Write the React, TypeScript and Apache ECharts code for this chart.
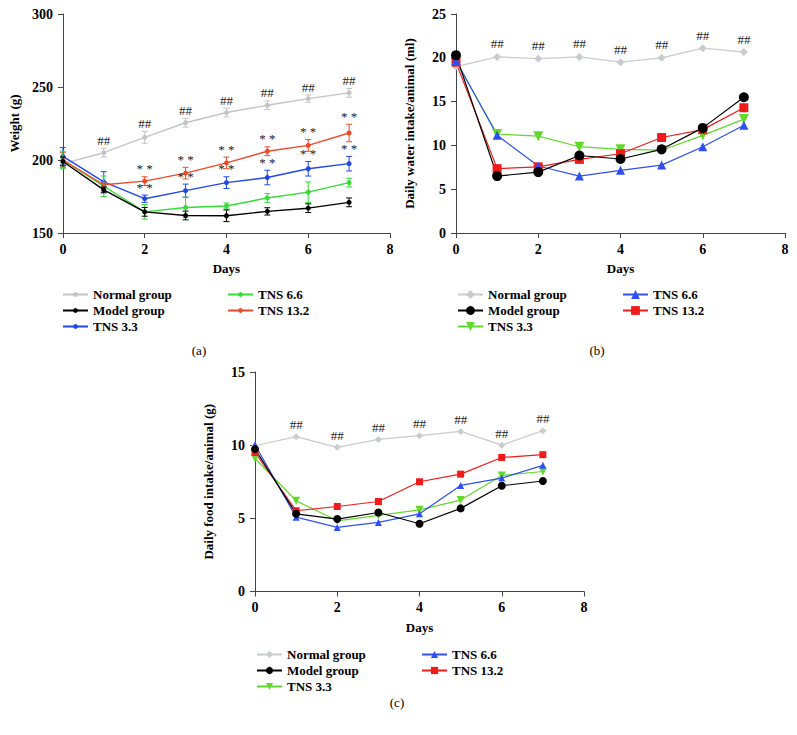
import React, { useEffect, useRef } from 'react';
import * as echarts from 'echarts';

const FONT = '"Liberation Serif", "DejaVu Serif", serif';

const days = [0, 1, 2, 3, 4, 5, 6, 7];
const groupNames = ['Normal group', 'Model group', 'TNS 3.3', 'TNS 6.6', 'TNS 13.2'];
const xTicks = { min: 0, max: 8, interval: 2 };

// Panel (a): body weight (g), mean and error
const weightNormal = [197.5, 205, 215.5, 225.5, 232.5, 237.5, 242, 246];
const weightNormalErr = [3, 3, 4, 3, 3, 3, 2.5, 3];
const weightModel = [199, 179.5, 164.5, 162, 161.8, 164.8, 167, 171];
const weightModelErr = [3, 2, 3, 3, 4, 2.5, 3, 3];
const weightTns33 = [202.5, 185, 173.5, 179, 184.5, 188, 194, 197.5];
const weightTns33Err = [6, 7, 2.5, 4.5, 4, 5, 5, 5];
const weightTns66 = [200, 182, 164.5, 167.5, 168.5, 174, 178, 184.5];
const weightTns66Err = [6, 7, 5, 7, 2, 3, 7, 3];
const weightTns132 = [200, 183, 185.5, 191, 198, 206, 210, 218.5];
const weightTns132Err = [5, 2, 3, 4, 4, 3, 4, 6];
const weightNormalMarks = ['', '##', '##', '##', '##', '##', '##', '##'];
const weightTns33Marks = ['', '', '* *', '* *', '* *', '* *', '* *', '* *'];
const weightTns132Marks = ['', '', '* *', '* *', '* *', '* *', '* *', '* *'];

// Panel (b): daily water intake (ml)
const waterNormal = [19.0, 20.1, 19.9, 20.1, 19.5, 20.0, 21.1, 20.65];
const waterModel = [20.3, 6.5, 6.95, 8.85, 8.45, 9.55, 12.0, 15.5];
const waterTns33 = [19.6, 11.3, 11.05, 9.85, 9.55, 9.45, 11.15, 13.0];
const waterTns66 = [19.7, 11.15, 7.65, 6.5, 7.15, 7.75, 9.85, 12.3];
const waterTns132 = [19.5, 7.35, 7.55, 8.4, 9.05, 10.9, 11.8, 14.3];
const waterNormalMarks = ['', '##', '##', '##', '##', '##', '##', '##'];

// Panel (c): daily food intake (g)
const foodNormal = [9.96, 10.58, 9.85, 10.39, 10.65, 10.94, 10.0, 10.99];
const foodModel = [9.73, 5.31, 4.95, 5.4, 4.63, 5.68, 7.23, 7.55];
const foodTns33 = [9.1, 6.2, 4.83, 5.2, 5.58, 6.25, 7.93, 8.2];
const foodTns66 = [10.03, 5.08, 4.38, 4.72, 5.31, 7.25, 7.75, 8.62];
const foodTns132 = [9.5, 5.52, 5.81, 6.15, 7.5, 8.02, 9.16, 9.35];
const foodNormalMarks = ['', '##', '##', '##', '##', '##', '##', '##'];

const boldText = { fontFamily: FONT, fontWeight: 'bold' as const, color: '#000' };

function xAxisOpt() {
  return {
    type: 'value',
    ...xTicks,
    name: 'Days',
    nameLocation: 'middle',
    nameGap: 29,
    nameTextStyle: { ...boldText, fontSize: 13 },
    axisLine: { show: true, onZero: false, lineStyle: { color: '#444', width: 1 } },
    axisTick: { show: true, length: 5, lineStyle: { color: '#444' } },
    axisLabel: { ...boldText, fontSize: 14, margin: 9 },
    splitLine: { show: false },
  };
}

function yAxisOpt(name: string, min: number, max: number, interval: number) {
  return {
    type: 'value',
    min,
    max,
    interval,
    name,
    nameLocation: 'middle',
    nameGap: 40,
    nameTextStyle: { ...boldText, fontSize: 13 },
    axisLine: { show: true, onZero: false, lineStyle: { color: '#444', width: 1 } },
    axisTick: { show: true, length: 5, lineStyle: { color: '#444' } },
    axisLabel: { ...boldText, fontSize: 14, margin: 10 },
    splitLine: { show: false },
  };
}

const grid = { left: 61, top: 14, width: 329, height: 219 };

function legends(itemHeight: number, top: number, itemWidth: number) {
  const base = {
    orient: 'vertical',
    top,
    itemWidth,
    itemHeight,
    itemGap: 3,
    padding: 0,
    selectedMode: false,
    textStyle: { ...boldText, fontSize: 13 },
  };
  return [
    { ...base, left: 62, data: groupNames.slice(0, 3) },
    { ...base, left: 227, data: groupNames.slice(3) },
  ];
}

function caption(text: string, x: number, y: number) {
  return [
    {
      type: 'text',
      x,
      y,
      style: { text, fontFamily: FONT, fontSize: 13, fill: '#000', align: 'center', verticalAlign: 'middle' },
    },
  ];
}

function errorBars(mean: number[], err: number[], color: string) {
  return {
    type: 'custom',
    silent: true,
    z: 3,
    data: days.map((d, i) => [d, mean[i] - err[i], mean[i] + err[i]]),
    encode: { x: 0, y: [1, 2] },
    renderItem: (params: any, api: any) => {
      const x = api.value(0);
      const top = api.coord([x, api.value(2)]);
      const bot = api.coord([x, api.value(1)]);
      const w = 3;
      const style = { stroke: color, lineWidth: 1 };
      return {
        type: 'group',
        children: [
          { type: 'line', shape: { x1: top[0], y1: top[1], x2: bot[0], y2: bot[1] }, style },
          { type: 'line', shape: { x1: top[0] - w, y1: top[1], x2: top[0] + w, y2: top[1] }, style },
          { type: 'line', shape: { x1: bot[0] - w, y1: bot[1], x2: bot[0] + w, y2: bot[1] }, style },
        ],
      };
    },
  };
}

function marks(values: number[], labels: string[], distance: number, fontSize = 13) {
  return {
    type: 'scatter',
    silent: true,
    z: 5,
    symbol: 'circle',
    symbolSize: 1,
    itemStyle: { color: 'rgba(0,0,0,0)' },
    data: days.map((d, i) => [d, values[i]]),
    label: {
      show: true,
      position: 'top',
      distance,
      formatter: (p: any) => labels[p.dataIndex],
      fontFamily: FONT,
      fontSize,
      color: '#222',
      opacity: 1,
    },
  };
}

function lineA(name: string, data: number[], color: string) {
  return {
    type: 'line',
    name,
    z: 4,
    data: days.map((d, i) => [d, data[i]]),
    symbol: 'circle',
    symbolSize: 5,
    showSymbol: true,
    lineStyle: { color, width: 1.4 },
    itemStyle: { color },
  };
}

function lineB(name: string, data: number[], color: string, symbol: string, size: number, rotate = 0) {
  return {
    type: 'line',
    name,
    data: days.map((d, i) => [d, data[i]]),
    symbol,
    symbolSize: size,
    symbolRotate: rotate,
    showSymbol: true,
    lineStyle: { color, width: 1.2 },
    itemStyle: { color },
  };
}

const C = {
  grayA: '#c4c4c4',
  black: '#000000',
  blueA: '#1f48e8',
  greenA: '#34dc34',
  redA: '#ee4a2a',
  grayB: '#c8cccc',
  greenB: '#62d82a',
  blueB: '#2f50ee',
  redB: '#f01c1c',
};

function optionA() {
  return {
    animation: false,
    grid,
    xAxis: xAxisOpt(),
    yAxis: yAxisOpt('Weight (g)', 150, 300, 50),
    legend: legends(6, 288, 25),
    graphic: caption('(a)', 199, 350),
    series: [
      lineA('Normal group', weightNormal, C.grayA),
      lineA('Model group', weightModel, C.black),
      lineA('TNS 3.3', weightTns33, C.blueA),
      lineA('TNS 6.6', weightTns66, C.greenA),
      lineA('TNS 13.2', weightTns132, C.redA),
      errorBars(weightNormal, weightNormalErr, C.grayA),
      errorBars(weightTns132, weightTns132Err, C.redA),
      errorBars(weightTns33, weightTns33Err, C.blueA),
      errorBars(weightTns66, weightTns66Err, C.greenA),
      errorBars(weightModel, weightModelErr, C.black),
      marks(weightNormal.map((v, i) => v + weightNormalErr[i]), weightNormalMarks, 1),
      marks(weightTns132.map((v, i) => v + weightTns132Err[i]), weightTns132Marks, 1),
      marks(weightTns33.map((v, i) => v + weightTns33Err[i]), weightTns33Marks, 1),
    ].map((s: any, i) => (s.type === 'line' ? { ...s, z: 2 + (i === 1 ? 1 : 0) } : s)),
  };
}

function optionB() {
  return {
    animation: false,
    grid,
    xAxis: xAxisOpt(),
    yAxis: yAxisOpt('Daily water intake/animal (ml)', 0, 25, 5),
    legend: legends(11, 288, 25),
    graphic: caption('(b)', 202, 350),
    series: [
      lineB('Normal group', waterNormal, C.grayB, 'diamond', 8),
      lineB('TNS 3.3', waterTns33, C.greenB, 'triangle', 10, 180),
      lineB('TNS 13.2', waterTns132, C.redB, 'rect', 9),
      lineB('TNS 6.6', waterTns66, C.blueB, 'triangle', 9),
      lineB('Model group', waterModel, C.black, 'circle', 10),
      marks(waterNormal, waterNormalMarks, 6),
    ],
  };
}

function optionC() {
  return {
    animation: false,
    grid: { left: 61, top: 14, width: 329, height: 219.5 },
    xAxis: xAxisOpt(),
    yAxis: yAxisOpt('Daily food intake/animal (g)', 0, 15, 5),
    legend: legends(9, 290, 25),
    graphic: caption('(c)', 203, 344),
    series: [
      lineB('Normal group', foodNormal, C.grayB, 'diamond', 7),
      lineB('TNS 3.3', foodTns33, C.greenB, 'triangle', 8, 180),
      lineB('TNS 13.2', foodTns132, C.redB, 'rect', 7),
      lineB('TNS 6.6', foodTns66, C.blueB, 'triangle', 7),
      lineB('Model group', foodModel, C.black, 'circle', 8),
      marks(foodNormal, foodNormalMarks, 5),
    ],
  };
}

function Panel(props: { option: () => any; left: number; top: number; width: number; height: number }) {
  const ref = useRef<HTMLDivElement>(null);
  useEffect(() => {
    if (!ref.current) return;
    const chart = echarts.init(ref.current, undefined, { renderer: 'svg' });
    chart.setOption(props.option());
    return () => chart.dispose();
  }, []);
  return (
    <div
      ref={ref}
      style={{ position: 'absolute', left: props.left, top: props.top, width: props.width, height: props.height }}
    />
  );
}

export default function App() {
  return (
    <div style={{ position: 'absolute', left: 0, top: 0, width: 797, height: 735, background: '#fff', overflow: 'hidden' }}>
      <Panel option={optionA} left={0} top={0} width={397} height={362} />
      <Panel option={optionB} left={395} top={0} width={400} height={362} />
      <Panel option={optionC} left={194} top={358} width={400} height={377} />
    </div>
  );
}
